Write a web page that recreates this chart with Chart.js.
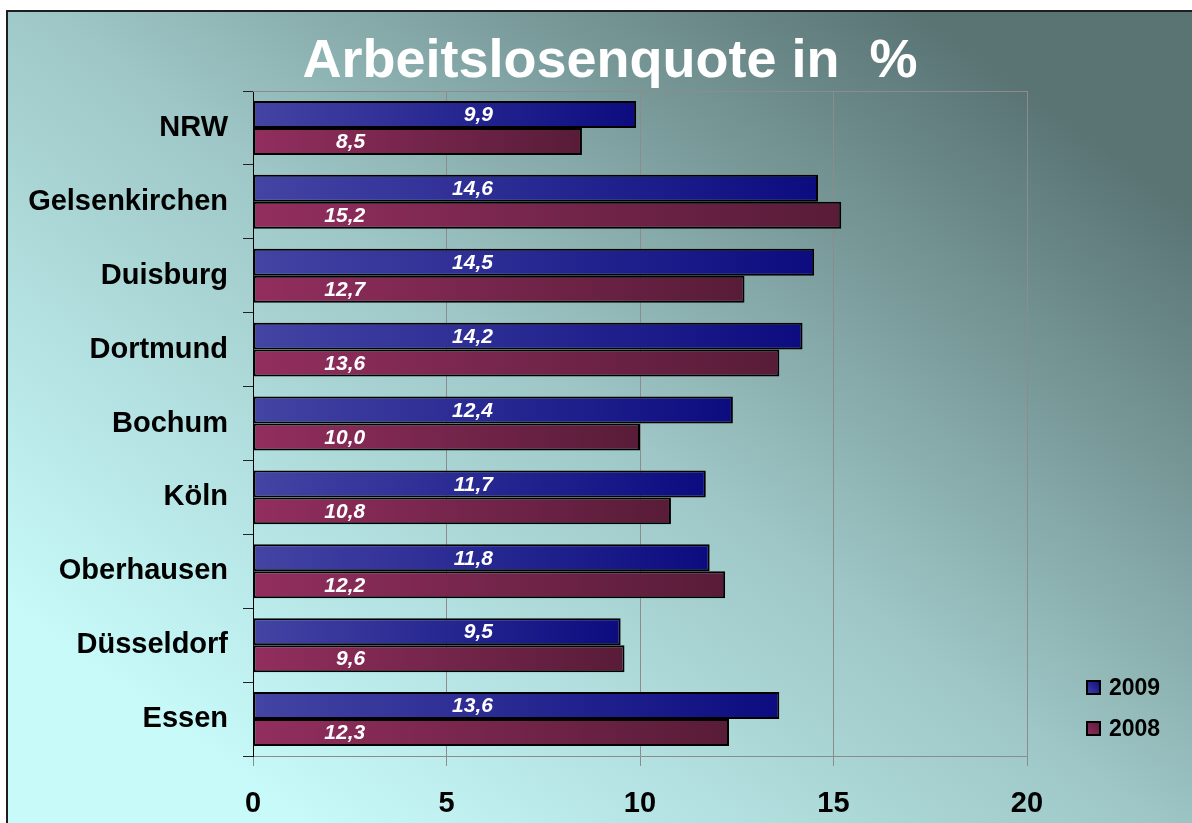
<!DOCTYPE html>
<html lang="de">
<head>
<meta charset="utf-8">
<title>Arbeitslosenquote in %</title>
<script src="https://cdn.jsdelivr.net/npm/chart.js@4"></script>
<style>
  html, body { margin: 0; padding: 0; background: #fff; }
  canvas { display: block; }
</style>
</head>
<body>
<canvas id="quoteChart" width="1192" height="823"></canvas>
<script>
const categories = ['NRW', 'Gelsenkirchen', 'Duisburg', 'Dortmund', 'Bochum', 'Köln', 'Oberhausen', 'Düsseldorf', 'Essen'];
const years = ['2009', '2008'];
const rate2009 = [9.9, 14.6, 14.5, 14.2, 12.4, 11.7, 11.8, 9.5, 13.6];
const rate2008 = [8.5, 15.2, 12.7, 13.6, 10.0, 10.8, 12.2, 9.6, 12.3];
const xTicks = [0, 5, 10, 15, 20];

const titleText = 'Arbeitslosenquote in  %';
const fontFamily = "'Liberation Sans', Arial, sans-serif";

// light -> dark shades for each series
const shades = [
    ['#4444a4', '#0c0c80'],
    ['#922e5e', '#581c38']
];

function barFill(ctx) {
    const chart = ctx.chart;
    const pair = shades[ctx.datasetIndex];
    const x = chart.scales.x;
    if (!x || ctx.raw == null) return pair[0];
    const x0 = x.getPixelForValue(0);
    const x1 = x.getPixelForValue(ctx.raw);
    if (!isFinite(x0) || !isFinite(x1) || x1 <= x0) return pair[0];
    const g = chart.ctx.createLinearGradient(x0, 0, x1, 0);
    g.addColorStop(0, pair[0]);
    g.addColorStop(1, pair[1]);
    return g;
}

function fmt(v) {
    return v.toFixed(1).replace('.', ',');
}

// background, frame, title, value labels and legend
const decor = {
    id: 'decor',
    beforeDraw(chart) {
        const c = chart.ctx;
        const w = chart.width, h = chart.height;
        c.save();
        c.fillStyle = '#ffffff';
        c.fillRect(0, 0, w, h);
        const g = c.createLinearGradient(300, h, 900, 0);
        g.addColorStop(0, '#c8fafa');
        g.addColorStop(0.5, '#9ec6c6');
        g.addColorStop(1, '#5a7474');
        c.fillStyle = g;
        c.fillRect(7, 10, w - 7, h - 10);
        c.strokeStyle = '#1e1e1e';
        c.lineWidth = 2;
        c.beginPath();
        c.moveTo(7, h);
        c.lineTo(7, 11);
        c.lineTo(w, 11);
        c.stroke();
        c.restore();
    },
    beforeDatasetsDraw(chart) {
        const a = chart.chartArea;
        const c = chart.ctx;
        c.save();
        c.strokeStyle = '#8c8c8c';
        c.lineWidth = 1;
        c.beginPath();
        c.moveTo(a.left, a.top + 0.5);
        c.lineTo(a.right, a.top + 0.5);
        c.stroke();
        c.restore();
    },
    afterDatasetsDraw(chart) {
        const c = chart.ctx;
        const x = chart.scales.x;
        const anchors = [x.getPixelForValue(6.2), x.getPixelForValue(2.9)];
        c.save();
        c.fillStyle = '#ffffff';
        c.font = 'italic bold 21px ' + fontFamily;
        c.textAlign = 'right';
        c.textBaseline = 'middle';
        chart.data.datasets.forEach((ds, di) => {
            chart.getDatasetMeta(di).data.forEach((bar, i) => {
                c.fillText(fmt(ds.data[i]), anchors[di], bar.y + 1);
            });
        });
        c.restore();
    },
    afterDraw(chart) {
        const c = chart.ctx;
        c.save();
        c.fillStyle = '#ffffff';
        c.font = 'bold 54px ' + fontFamily;
        c.textAlign = 'center';
        c.textBaseline = 'alphabetic';
        c.fillText(titleText, 610, 77);

        c.font = 'bold 23px ' + fontFamily;
        c.textAlign = 'left';
        c.textBaseline = 'middle';
        chart.data.datasets.forEach((ds, di) => {
            const y = 688 + di * 41;
            const g = c.createLinearGradient(1087, y + 7, 1100, y - 7);
            g.addColorStop(0, shades[di][0]);
            g.addColorStop(1, shades[di][1]);
            c.fillStyle = g;
            c.fillRect(1087, y - 7, 13, 13);
            c.strokeStyle = '#000000';
            c.lineWidth = 2;
            c.strokeRect(1087, y - 7, 13, 13);
            c.fillStyle = '#000000';
            c.fillText(ds.label, 1109, y + 1);
        });
        c.restore();
    }
};

const barStyle = {
    backgroundColor: barFill,
    borderColor: '#000000',
    borderWidth: 2,
    borderSkipped: false,
    categoryPercentage: 0.73,
    barPercentage: 1.0
};

new Chart(document.getElementById('quoteChart'), {
    type: 'bar',
    data: {
        labels: categories,
        datasets: [
            { label: years[0], data: rate2009, ...barStyle },
            { label: years[1], data: rate2008, ...barStyle }
        ]
    },
    options: {
        indexAxis: 'y',
        responsive: false,
        animation: false,
        layout: { padding: { top: 91, right: 165, bottom: 0, left: 10 } },
        scales: {
            x: {
                min: 0,
                max: 20,
                afterBuildTicks(scale) {
                    scale.ticks = xTicks.map(v => ({ value: v }));
                },
                afterFit(scale) { scale.height = 67; },
                grid: { color: '#8c8c8c', tickLength: 10, lineWidth: 1 },
                border: { color: '#8c8c8c' },
                ticks: {
                    color: '#000000',
                    padding: 21,
                    font: { family: fontFamily, size: 29, weight: 'bold' }
                }
            },
            y: {
                afterFit(scale) { scale.width = 243; },
                grid: { drawOnChartArea: false, tickLength: 10, color: '#222222', offset: true },
                border: { color: '#000000', width: 1 },
                ticks: {
                    color: '#000000',
                    padding: 15,
                    font: { family: fontFamily, size: 29, weight: 'bold' }
                }
            }
        },
        plugins: {
            legend: { display: false },
            title: { display: false },
            tooltip: { enabled: false },
            colors: { enabled: false }
        }
    },
    plugins: [decor]
});
</script>
</body>
</html>
